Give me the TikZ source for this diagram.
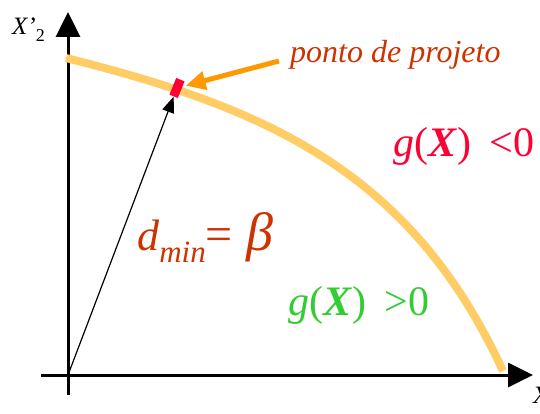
\documentclass[tikz,border=0pt]{standalone}
\usepackage{fontspec}
\setmainfont{Liberation Serif}
\usetikzlibrary{arrows.meta}

\definecolor{rust}{HTML}{CC3300}
\definecolor{crimson}{HTML}{FF0033}
\definecolor{leaf}{HTML}{33CC33}
\definecolor{sand}{HTML}{FFCC66}
\definecolor{amber}{HTML}{FF9900}

\begin{document}
\begin{tikzpicture}[
  x=1pt, y=-1pt,
  axis/.style={line width=3pt, -{Triangle[length=25pt,width=24pt]}},
  limit/.style={sand, line width=8pt},
  marker/.style={fill=crimson, draw=none, minimum width=9pt,
                 minimum height=18pt, inner sep=0pt},
  reach/.style={line width=1.2pt, -{Triangle[length=16pt,width=12pt]}},
  pointer/.style={amber, line width=5pt, shorten >=3pt,
                  -{Triangle[length=20pt,width=18pt]}},
  lbl/.style={inner sep=0pt, anchor=base west}
]
  \useasboundingbox (0,0) rectangle (540,414);

  % axes
  \coordinate (O) at (68,375);
  \draw[axis] (68,395) -- (68,12);
  \draw[axis] (41,375) -- (533,375);
  \node[lbl] (yname) at (12,35)
       {\fontsize{25}{25}\selectfont\textit{X’}\raisebox{-0.25em}{\fontsize{18}{18}\selectfont 2}};
  \node[lbl] (xname) at (533,403)
       {\fontsize{25}{25}\selectfont\textit{X’}\raisebox{-0.25em}{\fontsize{18}{18}\selectfont 1}};

  % limit state
  \draw[limit] (66,58) .. controls (266,108) and (411,171) .. (503,371);
  \node[marker, rotate=-22] (pp) at (177,88) {};

  \draw[reach] (O) -- (pp);
  \coordinate (tail) at (279,61);
  \draw[pointer] (tail) -- (pp);

  % labels
  \node[lbl, text=rust] (tag) at (290,63)
       {\fontsize{32}{32}\selectfont\itshape ponto de projeto};
  \node[lbl, text=crimson] (neg) at (393,157)
       {\fontsize{42}{42}\selectfont\textit{g}(\textbf{\textit{X}})\hspace{0.45em}<0};
  \node[lbl, text=leaf] (pos) at (288,315)
       {\fontsize{42}{42}\selectfont\textit{g}(\textbf{\textit{X}})\hspace{0.45em}>0};
  \node[lbl, text=rust] (dist) at (137,250)
       {\fontsize{44}{44}\selectfont\textit{d}\raisebox{-0.28em}{\fontsize{31}{31}\selectfont\textit{min}}%
        {\fontsize{48}{48}\selectfont=}\hspace{0.3em}{\fontsize{54}{54}\selectfont\textit{β}}};
\end{tikzpicture}
\end{document}
